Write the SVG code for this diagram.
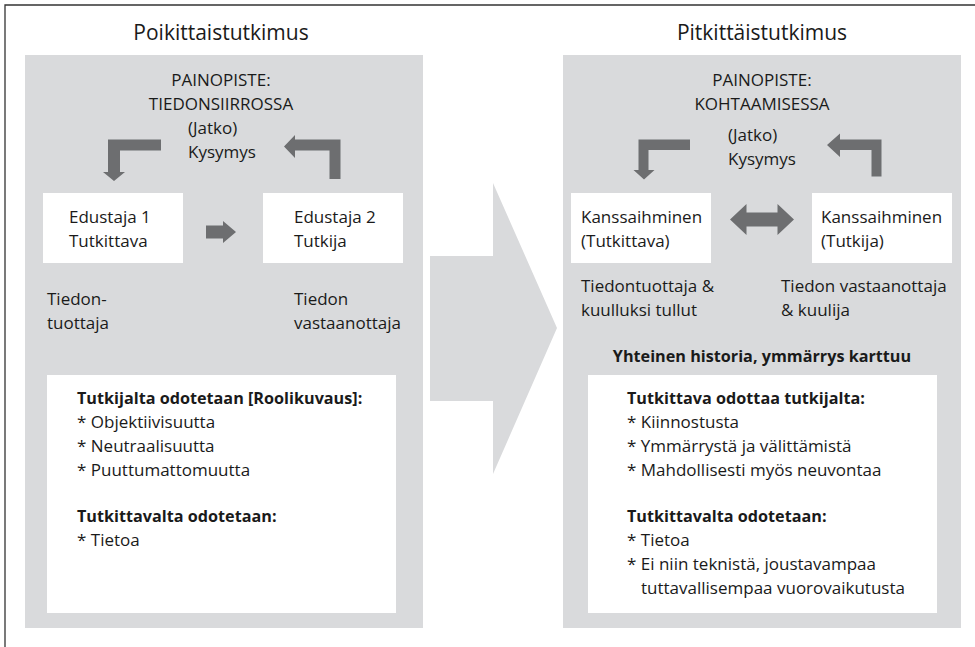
<svg xmlns="http://www.w3.org/2000/svg" width="975" height="647" viewBox="0 0 975 647">
<style>
.panel{fill:#d9dadc}
.box{fill:#ffffff}
.arr{fill:#6d6e70}
.big{fill:#d9dadc}
text{font-family:"Open Sans","Liberation Sans",sans-serif;font-size:17px;fill:#1a1a1a}
.title{font-size:21px}
.b{font-weight:bold;font-size:16.2px}
.c{text-anchor:middle}
</style>
<rect width="975" height="647" fill="#ffffff"/>
<path d="M5 647 V5 H975" fill="none" stroke="#333333" stroke-width="1.3"/>

<g id="panel-left">
<rect class="panel" x="25" y="55" width="398" height="573"/>
<text class="title c" x="221" y="40">Poikittaistutkimus</text>
<text class="c" x="221" y="86">PAINOPISTE:</text>
<text class="c" x="221" y="110">TIEDONSIIRROSSA</text>
<text x="188" y="134">(Jatko)</text>
<text x="188" y="158">Kysymys</text>
</g>

<g id="panel-right">
<rect class="panel" x="563" y="55" width="398" height="573"/>
<text class="title c" x="762" y="40">Pitkittäistutkimus</text>
<text class="c" x="762" y="86">PAINOPISTE:</text>
<text class="c" x="762" y="110">KOHTAAMISESSA</text>
<text x="728" y="141">(Jatko)</text>
<text x="728" y="165">Kysymys</text>
</g>

<g id="edustaja1">
<rect class="box" x="43" y="193" width="140" height="70"/>
<text x="69" y="223">Edustaja 1</text>
<text x="69" y="247">Tutkittava</text>
</g>

<g id="edustaja2">
<rect class="box" x="263" y="193" width="140" height="70"/>
<text x="294" y="223">Edustaja 2</text>
<text x="294" y="247">Tutkija</text>
</g>

<g id="tiedontuottaja-left">
<text x="47" y="305">Tiedon-</text>
<text x="47" y="329">tuottaja</text>
</g>

<g id="vastaanottaja-left">
<text x="294" y="305">Tiedon</text>
<text x="294" y="329">vastaanottaja</text>
</g>

<g id="odotukset-left">
<rect class="box" x="47" y="375" width="349" height="238"/>
<text class="b" x="77" y="404">Tutkijalta odotetaan [Roolikuvaus]:</text>
<text x="77" y="428">* Objektiivisuutta</text>
<text x="77" y="452">* Neutraalisuutta</text>
<text x="77" y="476">* Puuttumattomuutta</text>
<text class="b" x="77" y="522">Tutkittavalta odotetaan:</text>
<text x="77" y="546">* Tietoa</text>
</g>

<g id="kanssaihminen1">
<rect class="box" x="571" y="193" width="140" height="70"/>
<text x="581" y="223">Kanssaihminen</text>
<text x="581" y="247">(Tutkittava)</text>
</g>

<g id="kanssaihminen2">
<rect class="box" x="812" y="193" width="140" height="70"/>
<text x="821" y="223">Kanssaihminen</text>
<text x="821" y="247">(Tutkija)</text>
</g>

<g id="tiedontuottaja-right">
<text x="581" y="292">Tiedontuottaja &amp;</text>
<text x="581" y="316">kuulluksi tullut</text>
</g>

<g id="vastaanottaja-right">
<text x="781" y="292">Tiedon vastaanottaja</text>
<text x="781" y="316">&amp; kuulija</text>
</g>

<g id="historia">
<text class="b c" x="762" y="362">Yhteinen historia, ymmärrys karttuu</text>
</g>

<g id="odotukset-right">
<rect class="box" x="588" y="375" width="349" height="238"/>
<text class="b" x="627" y="404">Tutkittava odottaa tutkijalta:</text>
<text x="627" y="428">* Kiinnostusta</text>
<text x="627" y="452">* Ymmärrystä ja välittämistä</text>
<text x="627" y="476">* Mahdollisesti myös neuvontaa</text>
<text class="b" x="627" y="522">Tutkittavalta odotetaan:</text>
<text x="627" y="546">* Tietoa</text>
<text x="627" y="570">* Ei niin teknistä, joustavampaa</text>
<text x="641" y="594">tuttavallisempaa vuorovaikutusta</text>
</g>

<g id="connectors">
<polygon class="big" points="430,256 493,256 493,183 557,328 493,474 493,401 430,401"/>
<polygon class="arr" points="161,139.5 161,150.5 120,150.5 120,172 125,172 114,181 103,172 108,172 108,139.5"/>
<polygon class="arr" points="329.5,179 329.5,150.5 295,150.5 295,158 284,146.5 295,135 295,139.5 340.5,139.5 340.5,179"/>
<polygon class="arr" points="206,225.5 223,225.5 223,221 236,232 223,243 223,238.5 206,238.5"/>
<polygon class="arr" points="690,139.5 690,150 648.5,150 648.5,170 654.5,170 644,179.5 633.5,170 638.5,170 638.5,139.5"/>
<polygon class="arr" points="871.5,176.5 871.5,150 840,150 840,157 827,145 840,133.5 840,139.5 881.5,139.5 881.5,176.5"/>
<polygon class="arr" points="730,219.5 746.5,204 746.5,212.5 777.5,212.5 777.5,204 794,219.5 777.5,235 777.5,226.5 746.5,226.5 746.5,235"/>
</g>
</svg>
